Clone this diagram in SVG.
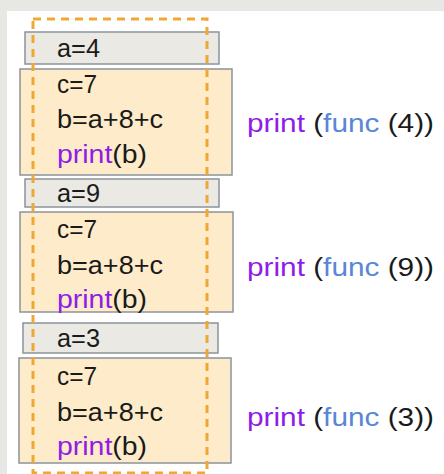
<svg xmlns="http://www.w3.org/2000/svg" width="444" height="474" viewBox="0 0 444 474">
  <style>
    .var { fill: #ebe9e3; stroke: #8c939b; stroke-width: 1.5; }
    .blk { fill: #fdebc9; stroke: #8c939b; stroke-width: 1.5; }
    .code { font-family: "Liberation Sans", Arial, sans-serif; font-size: 26px; fill: #1a1a1a; }
    .call { font-family: "Liberation Sans", Arial, sans-serif; font-size: 26px; fill: #1a1a1a; }
    .kw { fill: #8f1de6; }
    .fn { fill: #5a86d6; }
    .dash { fill: none; stroke: #f0a733; stroke-width: 3; stroke-dasharray: 8 6; }
  </style>
  <rect x="0" y="0" width="444" height="474" fill="#e7e7e3"/>
  <rect x="7" y="11" width="437" height="463" fill="#ffffff"/>

  <g id="block1">
    <rect class="var" x="25" y="32" width="194" height="32"/>
    <text class="code" x="57" y="57" textLength="43" lengthAdjust="spacingAndGlyphs">a=4</text>
    <rect class="blk" x="20" y="69" width="212" height="106"/>
    <text class="code" x="57" y="93" textLength="40" lengthAdjust="spacingAndGlyphs">c=7</text>
    <text class="code" x="57" y="128" textLength="106" lengthAdjust="spacingAndGlyphs">b=a+8+c</text>
    <text class="code" x="57" y="163" textLength="90" lengthAdjust="spacingAndGlyphs"><tspan class="kw">print</tspan>(b)</text>
  </g>

  <g id="block2">
    <rect class="var" x="25" y="179" width="194" height="28"/>
    <text class="code" x="57" y="202" textLength="43" lengthAdjust="spacingAndGlyphs">a=9</text>
    <rect class="blk" x="20" y="212" width="213" height="100"/>
    <text class="code" x="57" y="238" textLength="40" lengthAdjust="spacingAndGlyphs">c=7</text>
    <text class="code" x="57" y="274" textLength="106" lengthAdjust="spacingAndGlyphs">b=a+8+c</text>
    <text class="code" x="57" y="308" textLength="90" lengthAdjust="spacingAndGlyphs"><tspan class="kw">print</tspan>(b)</text>
  </g>

  <g id="block3">
    <rect class="var" x="23" y="323" width="195" height="30"/>
    <text class="code" x="57" y="347" textLength="43" lengthAdjust="spacingAndGlyphs">a=3</text>
    <rect class="blk" x="19" y="358" width="212" height="105"/>
    <text class="code" x="57" y="385" textLength="40" lengthAdjust="spacingAndGlyphs">c=7</text>
    <text class="code" x="57" y="421" textLength="106" lengthAdjust="spacingAndGlyphs">b=a+8+c</text>
    <text class="code" x="57" y="455" textLength="90" lengthAdjust="spacingAndGlyphs"><tspan class="kw">print</tspan>(b)</text>
  </g>

  <g id="frame">
    <rect class="dash" x="33" y="19" width="174" height="454"/>
  </g>

  <g id="calls">
    <text id="call1" class="call" x="247" y="132" textLength="187" lengthAdjust="spacingAndGlyphs"><tspan class="kw">print</tspan> (<tspan class="fn">func</tspan> (4))</text>
    <text id="call2" class="call" x="247" y="276" textLength="187" lengthAdjust="spacingAndGlyphs"><tspan class="kw">print</tspan> (<tspan class="fn">func</tspan> (9))</text>
    <text id="call3" class="call" x="247" y="426" textLength="187" lengthAdjust="spacingAndGlyphs"><tspan class="kw">print</tspan> (<tspan class="fn">func</tspan> (3))</text>
  </g>
</svg>
